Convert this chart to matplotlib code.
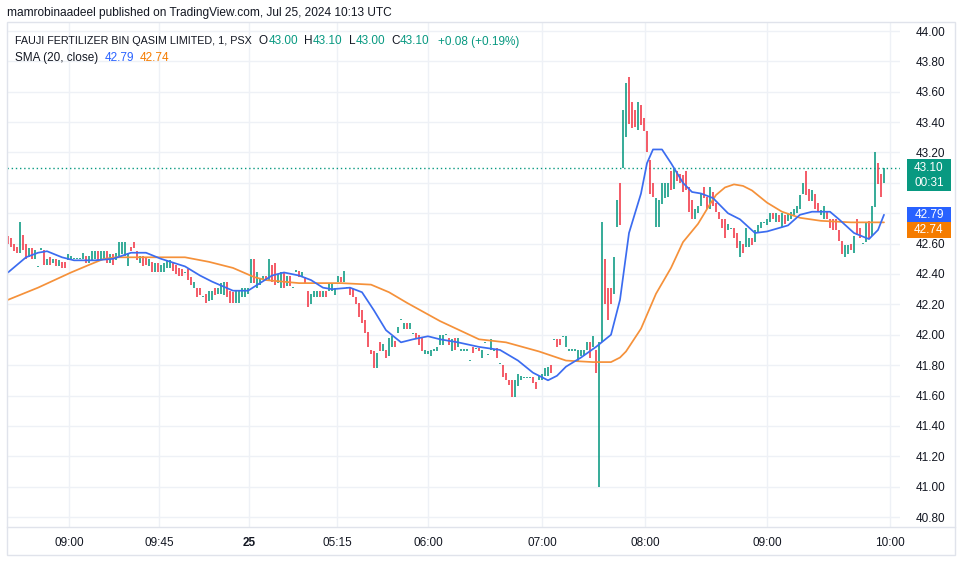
import matplotlib
matplotlib.use("Agg")
import matplotlib.pyplot as plt
from matplotlib.patches import Rectangle
from matplotlib.lines import Line2D
import numpy as np

# ---------------- data (1-minute bars, FFBL / PSX) ----------------
opens = [
    42.64, 42.63, 42.58, 42.57, 42.55, 42.66, 42.57, 42.52, 42.56, 42.51,
    42.45, 42.56, 42.56, 42.47, 42.50, 42.47, 42.49, 42.46, 42.48, 42.47,
    42.49, 42.50, 42.50, 42.50, 42.50, 42.50, 42.52, 42.48, 42.50, 42.51,
    42.54, 42.49, 42.50, 42.54, 42.48, 42.52, 42.50, 42.53, 42.54, 42.55,
    42.46, 42.57, 42.60, 42.54, 42.48, 42.51, 42.50, 42.46, 42.48, 42.42,
    42.46, 42.41, 42.42, 42.45, 42.44, 42.47, 42.45, 42.43, 42.42, 42.41,
    42.43, 42.37, 42.32, 42.31, 42.30, 42.25, 42.27, 42.22, 42.24, 42.30,
    42.27, 42.28, 42.27, 42.34, 42.29, 42.27, 42.21, 42.22, 42.25, 42.26,
    42.27, 42.35, 42.49, 42.31, 42.33, 42.36, 42.39, 42.36, 42.45, 42.47,
    42.34, 42.32, 42.40, 42.33, 42.39, 42.31, 42.42, 42.41, 42.38, 42.38,
    42.29, 42.21, 42.25, 42.26, 42.29, 42.25, 42.29, 42.29, 42.30, 42.27,
    42.36, 42.38, 42.36, 42.31, 42.31, 42.29, 42.25, 42.21, 42.15, 42.10,
    42.02, 41.90, 41.89, 41.79, 41.95, 41.90, 41.90, 41.86, 41.92, 41.96,
    42.01, 42.10, 42.04, 42.08, 42.04, 42.01, 42.01, 42.00, 41.98, 41.87,
    41.87, 41.87, 41.90, 41.89, 41.94, 41.93, 42.00, 41.98, 41.89, 41.97,
    41.92, 41.90, 41.90, 41.90, 41.83, 41.92, 41.91, 41.91, 41.85, 41.95,
    41.87, 41.90, 41.90, 41.91, 41.81, 41.80, 41.75, 41.70, 41.70, 41.61,
    41.66, 41.70, 41.72, 41.72, 41.72, 41.72, 41.69, 41.70, 41.70, 41.73,
    41.73, 41.80, 41.97, 41.97, 41.97, 41.99, 41.92, 41.90, 41.90, 41.90,
    41.83, 41.86, 41.87, 41.90, 41.95, 41.92, 41.90, 41.88, 41.95, 42.50,
    42.31, 42.31, 42.27, 42.72, 42.95, 43.10, 43.30, 43.64, 43.53, 43.45,
    43.36, 43.50, 43.42, 43.34, 43.15, 43.00, 42.71, 42.75, 42.86, 42.90,
    42.91, 43.05, 42.96, 43.07, 43.06, 43.04, 43.08, 42.95, 42.88, 42.76,
    42.80, 42.86, 42.96, 42.90, 42.83, 42.93, 42.87, 42.81, 42.76, 42.76,
    42.70, 42.70, 42.70, 42.66, 42.54, 42.60, 42.58, 42.60, 42.63, 42.61,
    42.68, 42.70, 42.74, 42.72, 42.74, 42.80, 42.74, 42.78, 42.71, 42.79,
    42.75, 42.77, 42.79, 42.80, 42.83, 42.93, 43.00, 42.96, 42.88, 42.93,
    42.87, 42.79, 42.76, 42.81, 42.76, 42.75, 42.76, 42.69, 42.62, 42.53,
    42.54, 42.60, 42.55, 42.74, 42.70, 42.60, 42.61, 42.74, 42.66, 42.84,
    43.10, 43.06, 43.00,
]
highs = [
    42.65, 42.64, 42.60, 42.58, 42.74, 42.66, 42.60, 42.57, 42.57, 42.56,
    42.45, 42.57, 42.56, 42.50, 42.51, 42.50, 42.50, 42.49, 42.48, 42.48,
    42.53, 42.52, 42.50, 42.50, 42.50, 42.54, 42.52, 42.52, 42.55, 42.55,
    42.55, 42.55, 42.55, 42.55, 42.53, 42.53, 42.54, 42.61, 42.61, 42.61,
    42.54, 42.58, 42.61, 42.55, 42.52, 42.52, 42.51, 42.50, 42.48, 42.47,
    42.47, 42.46, 42.47, 42.49, 42.49, 42.48, 42.46, 42.44, 42.43, 42.41,
    42.43, 42.38, 42.35, 42.31, 42.31, 42.25, 42.27, 42.29, 42.29, 42.31,
    42.31, 42.34, 42.35, 42.35, 42.29, 42.28, 42.29, 42.29, 42.31, 42.31,
    42.31, 42.50, 42.50, 42.41, 42.37, 42.39, 42.39, 42.50, 42.46, 42.47,
    42.40, 42.41, 42.41, 42.39, 42.39, 42.31, 42.42, 42.42, 42.41, 42.38,
    42.29, 42.27, 42.29, 42.29, 42.29, 42.29, 42.29, 42.34, 42.34, 42.31,
    42.39, 42.38, 42.42, 42.31, 42.31, 42.30, 42.25, 42.21, 42.16, 42.10,
    42.02, 41.90, 41.89, 41.88, 41.95, 41.94, 41.90, 41.98, 41.99, 41.96,
    42.05, 42.10, 42.08, 42.08, 42.08, 42.01, 42.01, 42.00, 41.98, 41.90,
    41.89, 41.90, 41.90, 41.92, 42.00, 42.00, 42.00, 41.98, 41.97, 41.98,
    41.98, 41.90, 41.90, 41.90, 41.83, 41.92, 41.91, 41.91, 41.90, 41.95,
    41.87, 41.97, 41.90, 41.91, 41.81, 41.80, 41.75, 41.70, 41.70, 41.70,
    41.74, 41.73, 41.72, 41.72, 41.72, 41.72, 41.69, 41.73, 41.74, 41.78,
    41.79, 41.80, 41.97, 41.97, 41.97, 41.99, 41.99, 41.90, 41.90, 41.90,
    41.90, 41.90, 41.90, 41.95, 41.95, 41.99, 41.90, 41.95, 42.74, 42.50,
    42.31, 42.31, 42.51, 42.89, 43.00, 43.48, 43.66, 43.70, 43.53, 43.48,
    43.53, 43.51, 43.43, 43.34, 43.15, 43.00, 42.90, 42.89, 43.00, 43.00,
    43.00, 43.08, 43.10, 43.08, 43.06, 43.05, 43.08, 42.97, 42.89, 42.83,
    42.85, 42.93, 42.97, 42.91, 42.97, 42.94, 42.87, 42.81, 42.76, 42.76,
    42.73, 42.70, 42.70, 42.67, 42.62, 42.60, 42.70, 42.64, 42.64, 42.69,
    42.72, 42.74, 42.74, 42.76, 42.80, 42.80, 42.80, 42.79, 42.80, 42.79,
    42.80, 42.81, 42.83, 42.85, 42.92, 43.00, 43.08, 42.96, 42.95, 42.93,
    42.87, 42.82, 42.85, 42.81, 42.76, 42.76, 42.76, 42.69, 42.62, 42.59,
    42.59, 42.60, 42.65, 42.76, 42.70, 42.60, 42.74, 42.75, 42.85, 43.20,
    43.13, 43.06, 43.10,
]
lows = [
    42.60, 42.58, 42.55, 42.54, 42.54, 42.56, 42.50, 42.51, 42.50, 42.50,
    42.45, 42.56, 42.46, 42.46, 42.46, 42.47, 42.45, 42.45, 42.44, 42.44,
    42.49, 42.49, 42.50, 42.50, 42.50, 42.50, 42.47, 42.47, 42.49, 42.50,
    42.49, 42.49, 42.49, 42.47, 42.47, 42.46, 42.49, 42.52, 42.53, 42.52,
    42.45, 42.55, 42.57, 42.49, 42.47, 42.45, 42.46, 42.45, 42.41, 42.41,
    42.41, 42.41, 42.41, 42.44, 42.44, 42.42, 42.40, 42.39, 42.39, 42.41,
    42.36, 42.33, 42.31, 42.25, 42.26, 42.25, 42.21, 42.22, 42.23, 42.26,
    42.27, 42.27, 42.26, 42.25, 42.21, 42.21, 42.21, 42.21, 42.25, 42.25,
    42.27, 42.34, 42.34, 42.31, 42.33, 42.36, 42.36, 42.36, 42.35, 42.33,
    42.34, 42.31, 42.31, 42.32, 42.32, 42.31, 42.42, 42.38, 42.38, 42.34,
    42.18, 42.20, 42.25, 42.25, 42.25, 42.25, 42.25, 42.29, 42.29, 42.26,
    42.35, 42.35, 42.35, 42.31, 42.26, 42.25, 42.20, 42.12, 42.08, 42.01,
    41.92, 41.87, 41.78, 41.78, 41.89, 41.89, 41.85, 41.86, 41.92, 41.92,
    42.01, 42.10, 42.04, 42.04, 42.04, 42.01, 41.97, 41.93, 41.89, 41.87,
    41.87, 41.86, 41.90, 41.89, 41.93, 41.93, 42.00, 41.93, 41.89, 41.90,
    41.92, 41.90, 41.90, 41.90, 41.83, 41.88, 41.91, 41.89, 41.85, 41.95,
    41.87, 41.90, 41.90, 41.85, 41.81, 41.72, 41.70, 41.67, 41.59, 41.59,
    41.66, 41.70, 41.72, 41.72, 41.72, 41.68, 41.64, 41.70, 41.70, 41.73,
    41.73, 41.75, 41.97, 41.92, 41.93, 41.99, 41.92, 41.90, 41.90, 41.90,
    41.83, 41.86, 41.86, 41.90, 41.85, 41.92, 41.75, 41.00, 41.95, 42.20,
    42.10, 42.20, 42.27, 42.71, 42.72, 43.10, 43.30, 43.39, 43.36, 43.37,
    43.35, 43.38, 43.34, 43.20, 42.93, 42.91, 42.71, 42.71, 42.86, 42.90,
    42.91, 42.95, 42.96, 43.01, 43.00, 42.94, 42.95, 42.81, 42.76, 42.76,
    42.80, 42.85, 42.90, 42.83, 42.83, 42.85, 42.81, 42.76, 42.70, 42.64,
    42.69, 42.70, 42.64, 42.57, 42.51, 42.54, 42.58, 42.58, 42.59, 42.61,
    42.67, 42.70, 42.74, 42.72, 42.74, 42.76, 42.74, 42.74, 42.71, 42.73,
    42.75, 42.76, 42.79, 42.80, 42.83, 42.93, 42.92, 42.88, 42.88, 42.83,
    42.81, 42.79, 42.76, 42.76, 42.70, 42.69, 42.69, 42.62, 42.53, 42.51,
    42.53, 42.56, 42.54, 42.66, 42.64, 42.60, 42.61, 42.63, 42.65, 42.84,
    42.99, 42.91, 43.00,
]
closes = [
    42.61, 42.60, 42.57, 42.55, 42.66, 42.57, 42.52, 42.56, 42.51, 42.55,
    42.45, 42.57, 42.47, 42.49, 42.47, 42.50, 42.46, 42.48, 42.45, 42.45,
    42.53, 42.51, 42.50, 42.50, 42.50, 42.54, 42.48, 42.51, 42.54, 42.54,
    42.50, 42.54, 42.55, 42.48, 42.52, 42.47, 42.53, 42.60, 42.60, 42.58,
    42.52, 42.55, 42.57, 42.50, 42.51, 42.46, 42.47, 42.49, 42.42, 42.46,
    42.42, 42.45, 42.46, 42.48, 42.48, 42.43, 42.41, 42.40, 42.40, 42.41,
    42.37, 42.34, 42.34, 42.26, 42.27, 42.25, 42.22, 42.28, 42.28, 42.27,
    42.30, 42.33, 42.34, 42.26, 42.22, 42.22, 42.28, 42.29, 42.30, 42.30,
    42.31, 42.49, 42.35, 42.40, 42.36, 42.38, 42.36, 42.49, 42.36, 42.34,
    42.39, 42.40, 42.32, 42.38, 42.33, 42.31, 42.42, 42.39, 42.40, 42.35,
    42.19, 42.26, 42.28, 42.28, 42.26, 42.28, 42.26, 42.33, 42.33, 42.30,
    42.38, 42.36, 42.41, 42.31, 42.27, 42.26, 42.21, 42.13, 42.09, 42.02,
    41.93, 41.87, 41.79, 41.87, 41.90, 41.94, 41.86, 41.97, 41.98, 41.93,
    42.04, 42.10, 42.07, 42.05, 42.08, 42.01, 41.97, 41.94, 41.89, 41.89,
    41.89, 41.90, 41.90, 41.92, 41.99, 41.99, 42.00, 41.94, 41.96, 41.91,
    41.97, 41.90, 41.90, 41.90, 41.83, 41.89, 41.91, 41.89, 41.90, 41.95,
    41.87, 41.97, 41.90, 41.85, 41.81, 41.73, 41.71, 41.67, 41.60, 41.69,
    41.73, 41.73, 41.72, 41.72, 41.72, 41.69, 41.65, 41.73, 41.73, 41.78,
    41.78, 41.76, 41.97, 41.93, 41.94, 41.99, 41.99, 41.90, 41.90, 41.90,
    41.90, 41.90, 41.89, 41.95, 41.86, 41.99, 41.76, 41.95, 42.60, 42.21,
    42.12, 42.21, 42.50, 42.88, 42.73, 43.47, 43.64, 43.40, 43.37, 43.38,
    43.52, 43.39, 43.35, 43.21, 42.94, 42.92, 42.89, 42.88, 42.99, 42.99,
    42.99, 42.96, 43.09, 43.02, 43.01, 42.95, 42.96, 42.82, 42.77, 42.82,
    42.84, 42.92, 42.91, 42.84, 42.96, 42.86, 42.82, 42.77, 42.71, 42.65,
    42.72, 42.70, 42.64, 42.58, 42.61, 42.55, 42.69, 42.63, 42.59, 42.68,
    42.71, 42.74, 42.74, 42.76, 42.79, 42.76, 42.79, 42.75, 42.79, 42.74,
    42.80, 42.81, 42.82, 42.85, 42.91, 42.99, 42.93, 42.89, 42.94, 42.84,
    42.82, 42.81, 42.84, 42.76, 42.71, 42.70, 42.70, 42.63, 42.54, 42.58,
    42.58, 42.56, 42.64, 42.67, 42.65, 42.60, 42.73, 42.64, 42.84, 43.19,
    43.00, 42.92, 43.10,
]

# SMA (20, close) line and its smoothing line (bar index, value)
sma_pos = [0, 6, 10, 13, 18, 22, 29, 35, 41, 46, 51, 59, 64, 68, 75, 80, 84, 88,
           92, 97, 101, 105, 108, 114, 118, 122, 126, 131, 135, 140, 144, 150,
           157, 164, 170, 175, 180, 183, 186, 191, 196, 201, 204, 207, 211, 213,
           215, 218, 221, 225, 228, 231, 235, 240, 244, 249, 253, 260, 264, 268,
           274, 277, 282, 287, 290, 292]
sma_val = [42.41, 42.51, 42.54, 42.55, 42.51, 42.49, 42.49, 42.50, 42.54, 42.54,
           42.50, 42.45, 42.39, 42.35, 42.29, 42.29, 42.34, 42.39, 42.41, 42.39,
           42.36, 42.31, 42.30, 42.31, 42.28, 42.16, 42.03, 41.95, 41.97, 41.99,
           41.97, 41.95, 41.92, 41.90, 41.83, 41.75, 41.70, 41.73, 41.79, 41.85,
           41.92, 42.00, 42.23, 42.67, 42.93, 43.13, 43.22, 43.22, 43.13, 43.00,
           42.94, 42.93, 42.90, 42.80, 42.76, 42.67, 42.68, 42.72, 42.79, 42.81,
           42.81, 42.76, 42.67, 42.63, 42.69, 42.79]
smooth_pos = [0, 10, 21, 27, 32, 36, 59, 67, 75, 82, 86, 97, 111, 121, 127, 133,
              144, 157, 166, 177, 186, 195, 201, 204, 206, 211, 216, 221, 225,
              230, 234, 236, 239, 242, 245, 248, 253, 258, 264, 271, 281, 292]
smooth_val = [42.23, 42.31, 42.41, 42.46, 42.50, 42.51, 42.51, 42.48, 42.44,
              42.38, 42.36, 42.34, 42.34, 42.33, 42.28, 42.21, 42.09, 41.97,
              41.95, 41.89, 41.83, 41.82, 41.82, 41.85, 41.89, 42.04, 42.27,
              42.44, 42.61, 42.73, 42.86, 42.92, 42.97, 42.99, 42.98, 42.95,
              42.87, 42.81, 42.77, 42.75, 42.74, 42.74]

price_ticks = [40.80, 41.00, 41.20, 41.40, 41.60, 41.80, 42.00, 42.20, 42.40,
               42.60, 42.80, 43.00, 43.20, 43.40, 43.60, 43.80, 44.00]
time_tick_pos = [20.3, 50.3, 80.3, 109.7, 140.0, 178.0, 212.3, 253.0, 294.0]
time_tick_labels = ["09:00", "09:45", "25", "05:15", "06:00", "07:00", "08:00",
                    "09:00", "10:00"]

title_text = "mamrobinaadeel published on TradingView.com, Jul 25, 2024 10:13 UTC"
symbol_text = "FAUJI FERTILIZER BIN QASIM LIMITED, 1, PSX"
ohlc_labels = ["O", "H", "L", "C"]
ohlc_values = ["43.00", "43.10", "43.00", "43.10"]
change_text = "+0.08 (+0.19%)"
sma_label = "SMA (20, close)"
sma_last = "42.79"
smooth_last = "42.74"
countdown = "00:31"

# ---------------- style ----------------
GREEN = "#089981"
RED = "#F23645"
BLUE = "#2962FF"
ORANGE = "#F57C00"
TXT = "#131722"
GRID = "#eef1f6"
BORDER = "#e0e3eb"
FONT = "Liberation Sans"
FS = 8.5

plt.rcParams["font.family"] = [FONT, "DejaVu Sans"]

W, H = 961, 563
fig = plt.figure(figsize=(W / 100, H / 100), dpi=100)
fig.patch.set_facecolor("white")


def fx(px):
    return px / W


def fy(py):
    return 1 - py / H


L, R, T, B = 7, 900, 22, 527
ax = fig.add_axes([fx(L), fy(B), (R - L) / W, (B - T) / H])
ax.set_facecolor("white")

n = min(len(opens), len(highs), len(lows), len(closes))
o = np.array(opens[:n]); h = np.array(highs[:n]); l = np.array(lows[:n]); c = np.array(closes[:n])
idx = np.arange(n)

# axis range: bar i sits at pixel 8 + 3 i ; 44.00 at y=31, 40.80 at y=517
ax.set_xlim((L - 8) / 3.0, (R - 8) / 3.0)
ppy = (517 - 31) / 3.2
ax.set_ylim(44.0 - (B - 31) / ppy, 44.0 + (31 - T) / ppy)

for s in ax.spines.values():
    s.set_visible(False)

ax.set_yticks(price_ticks)
ax.set_yticklabels([f"{v:.2f}" for v in price_ticks])
ax.yaxis.tick_right()
ax.set_xticks(time_tick_pos)
ax.set_xticklabels(time_tick_labels)
ax.tick_params(axis="y", length=0, pad=11, labelsize=FS, labelcolor=TXT)
ax.tick_params(axis="x", length=0, pad=7, labelsize=FS, labelcolor=TXT)
for lab in ax.get_xticklabels():
    if lab.get_text() == "25":
        lab.set_fontweight("bold")
ax.grid(True, color=GRID, lw=1.0, zorder=0)
ax.set_axisbelow(True)

# candles
up = c >= o
flat = (h - l) < 0.005
lo = np.where(flat, l - 0.004, l)
hi = np.where(flat, h + 0.004, h)
ax.vlines(idx[up], lo[up], hi[up], colors=GREEN, lw=1.15, zorder=2)
ax.vlines(idx[~up], lo[~up], hi[~up], colors=RED, lw=1.15, zorder=2)

# SMA lines
ax.plot(smooth_pos, smooth_val, color="#F5913A", lw=1.25, zorder=3,
        solid_joinstyle="round", solid_capstyle="round")
ax.plot(sma_pos, sma_val, color="#3b6cf0", lw=1.25, zorder=4,
        solid_joinstyle="round", solid_capstyle="round")

# last price line
ax.axhline(c[-1], color=GREEN, lw=1.0, ls=(0, (1, 2)), zorder=1)

# ---------------- frame ----------------
fig.add_artist(Rectangle((fx(7), fy(555)), (955 - 7) / W, (555 - 22) / H,
                         transform=fig.transFigure, fill=False,
                         edgecolor=BORDER, lw=1.0))
fig.add_artist(Line2D([fx(7), fx(955)], [fy(527), fy(527)],
                      transform=fig.transFigure, color=BORDER, lw=1.0))

# ---------------- price labels on the scale ----------------
fig.canvas.draw()
renderer = fig.canvas.get_renderer()


def price_py(p):
    disp = ax.transData.transform((0, p))
    return H - disp[1]


def box(x0, x1, y0, y1, color):
    fig.add_artist(Rectangle((fx(x0), fy(y1)), (x1 - x0) / W, (y1 - y0) / H,
                             transform=fig.transFigure, facecolor=color,
                             edgecolor="none", zorder=5))


py_last = price_py(c[-1])
box(907, 951, py_last - 9, py_last + 23, GREEN)
fig.text(fx(929), fy(py_last), f"{c[-1]:.2f}", color="white", fontsize=FS,
         ha="center", va="center", zorder=6)
fig.text(fx(929), fy(py_last + 15), countdown, color="white", fontsize=FS,
         ha="center", va="center", zorder=6)

py_sma = price_py(float(sma_last))
box(907, 951, py_sma - 8, py_sma + 7, BLUE)
fig.text(fx(929), fy(py_sma), sma_last, color="white", fontsize=FS,
         ha="center", va="center", zorder=6)
py_sm2 = py_sma + 15.5
box(907, 951, py_sm2 - 8, py_sm2 + 8, ORANGE)
fig.text(fx(929), fy(py_sm2), smooth_last, color="white", fontsize=FS,
         ha="center", va="center", zorder=6)


# ---------------- header texts ----------------
def put(x, y, s, color=TXT, fs=FS, width=None):
    t = fig.text(fx(x), fy(y), s, color=color, fontsize=fs, ha="left", va="center")
    if width is not None:
        w = t.get_window_extent(renderer).width
        t.set_fontsize(fs * width / w)
    return t, t.get_window_extent(renderer).x1


put(7, 13, title_text, fs=9, width=386)

_, xend = put(15, 41.5, symbol_text, width=235)
x = xend + 7
for lt, lv in zip(ohlc_labels, ohlc_values):
    _, xe = put(x, 41.5, lt)
    _, xe = put(xe + 0.5, 41.5, lv, color=GREEN)
    x = xe + 6
put(x + 2, 41.5, change_text, color=GREEN)

_, xe = put(15, 58, sma_label)
_, xe = put(xe + 6, 58, sma_last, color=BLUE)
put(xe + 6, 58, smooth_last, color=ORANGE)

fig.savefig("out.png", dpi=100, facecolor="white")
